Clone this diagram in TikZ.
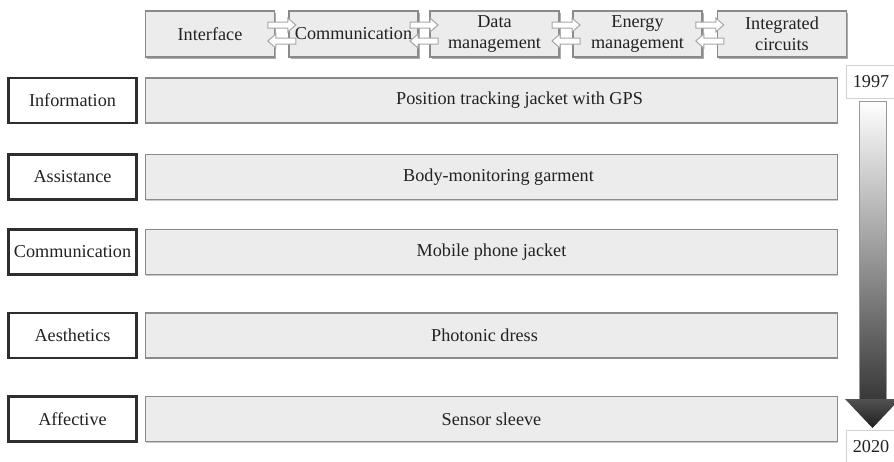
\documentclass[tikz,border=0pt]{standalone}
\usepackage{fontspec}
\setmainfont{Liberation Serif}
\usetikzlibrary{shadows}
\definecolor{barfill}{HTML}{ECECEC}
\definecolor{barline}{HTML}{8A8A8A}
\definecolor{catline}{HTML}{2E2E2E}
\definecolor{txt}{HTML}{222222}
\begin{document}
\begin{tikzpicture}[x=1pt,y=-1pt,
  every node/.style={text=txt, inner sep=0pt, outer sep=0pt},
  txtfont/.style={font=\fontsize{18.2}{21}\selectfont},
  catbox/.style={txtfont, draw=catline, line width=2.2pt, fill=white,
    minimum width=128pt, minimum height=45pt},
  barbox/.style={draw=barline, line width=1.3pt, fill=barfill,
    minimum width=692pt, minimum height=45pt,
    drop shadow={shadow xshift=0.8pt, shadow yshift=-1.2pt, fill=black!35, opacity=0.6}},
  bartext/.style={txtfont},
  topbox/.style={txtfont, align=center, draw=barline, line width=1.3pt, fill=barfill,
    minimum width=129pt, minimum height=46pt,
    drop shadow={shadow xshift=1.5pt, shadow yshift=-1.5pt, fill=black!45, opacity=0.7}},
  linkarrow/.style={draw=gray!70, fill=white, line width=1pt, line join=miter},
  yearbox/.style={txtfont, draw=gray!35, line width=1pt, fill=white,
    minimum width=50pt, minimum height=33pt}
]
\useasboundingbox (0,0) rectangle (894,461);

% top row
\node[topbox] (t1) at (210,34) {Interface};
\node[topbox] (t2) at (353.5,34) {Communication};
\node[topbox] (t3) at (494.5,34) {Data\\management};
\node[topbox] (t4) at (637.5,34) {Energy\\management};
\node[topbox] (t5) at (782,34) {Integrated\\circuits};

\foreach \a/\b/\n in {t1/t2/1, t2/t3/2, t3/t4/3, t4/t5/4}{
  \path (\a.east) -- (\b.west) coordinate[pos=0.5] (m\n);
  \begin{scope}[shift={(m\n)}]
    % right-pointing arrow (upper)
    \draw[linkarrow] (-14,-12) -- (6,-12) -- (6,-16) -- (14,-9) -- (6,-2) -- (6,-6)
      -- (-14,-6) -- cycle;
    % left-pointing arrow (lower)
    \draw[linkarrow] (14,4) -- (-6,4) -- (-6,0) -- (-14,7) -- (-6,14) -- (-6,10)
      -- (14,10) -- cycle;
  \end{scope}
}

% categories
\node[catbox] (c1) at (72.5,100.5) {Information};
\node[catbox] (c2) at (72.5,177) {Assistance};
\node[catbox] (c3) at (72.5,252) {Communication};
\node[catbox] (c4) at (72.5,335.5) {Aesthetics};
\node[catbox] (c5) at (72.5,419) {Affective};

% bars
\node[barbox] (b1) at (491.5,100.5) {};
\node[barbox] (b2) at (491.5,177) {};
\node[barbox] (b3) at (491.5,252) {};
\node[barbox] (b4) at (491.5,335.5) {};
\node[barbox] (b5) at (491.5,419) {};
\node[bartext] (s1) at ([xshift=28pt]b1.center) {Position tracking jacket with GPS};
\node[bartext] (s2) at ([xshift=7pt]b2.center) {Body-monitoring garment};
\node[bartext] (s3) at ([xshift=0pt]b3.center) {Mobile phone jacket};
\node[bartext] (s4) at ([xshift=-7pt]b4.center) {Photonic dress};
\node[bartext] (s5) at ([xshift=0pt]b5.center) {Sensor sleeve};

% timeline
\node[yearbox, anchor=north west] (y1) at (846,65) {1997};
\node[yearbox, anchor=north west] (y2) at (846,430) {2020};
\shade[top color=white, bottom color=black!78, draw=gray!80, line width=0.9pt]
  (859,101) rectangle (886,400);
\shade[top color=black!68, bottom color=black!88]
  (845,399) -- (900,399) -- (872.5,428) -- cycle;
\end{tikzpicture}
\end{document}
